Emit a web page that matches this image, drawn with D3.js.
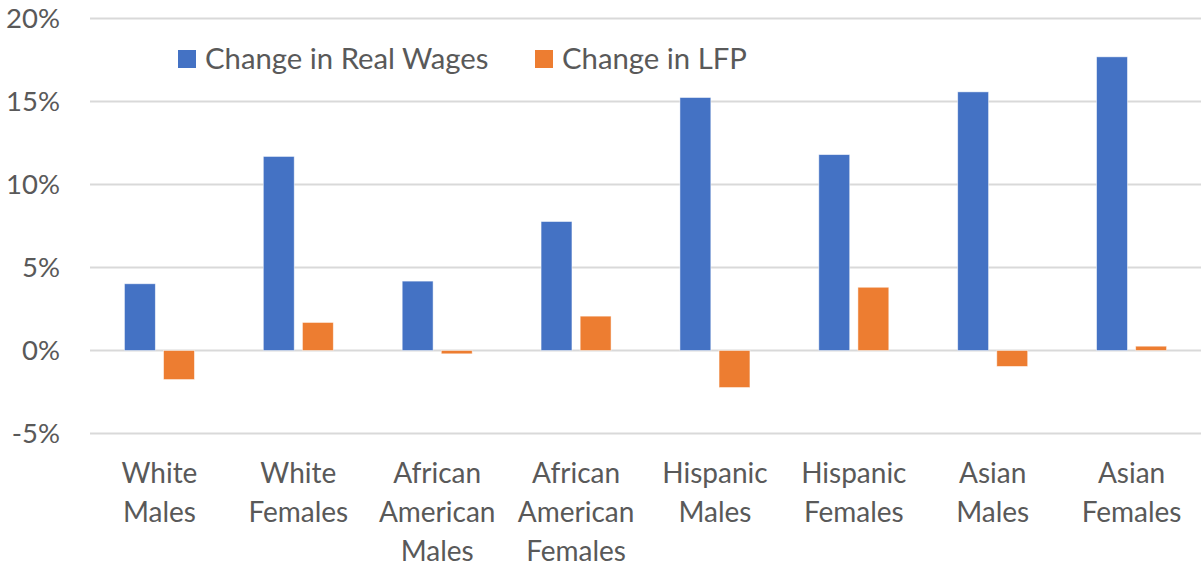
<!DOCTYPE html>
<html><head><meta charset="utf-8">
<script src="https://cdn.jsdelivr.net/npm/d3@7"></script>
<style>body{margin:0;background:#fff}text{font-family:Lato,"Liberation Sans",sans-serif;fill:#595959}</style>
</head><body>
<svg id="c" width="1202" height="569"></svg>
<script>
const categories = [["White","Males"],["White","Females"],["African","American","Males"],["African","American","Females"],["Hispanic","Males"],["Hispanic","Females"],["Asian","Males"],["Asian","Females"]];
const seriesNames = ["Change in Real Wages","Change in LFP"];
const realWages = [4.02, 11.69, 4.18, 7.77, 15.24, 11.8, 15.58, 17.69];
const lfp = [-1.75, 1.69, -0.2, 2.07, -2.23, 3.81, -0.96, 0.26];
const yTicks = [-5, 0, 5, 10, 15, 20];
const colors = ["#4472C4","#ED7D31"];

const svg = d3.select("#c");
const left = 90, right = 1201;
const y = d3.scaleLinear().domain([-5,20]).range([433.5,18.5]);
const x0 = d3.scaleBand().domain(d3.range(categories.length)).range([left,right]).paddingInner(0).paddingOuter(0);
const bw = x0.bandwidth();
const x1 = d3.scaleBand().domain([0,1]).range([bw*0.248, bw*0.752]).paddingInner(0.21);

svg.append("g").selectAll("line").data(yTicks).join("line")
  .attr("x1",left).attr("x2",right).attr("y1",d=>y(d)).attr("y2",d=>y(d))
  .attr("stroke","#d9d9d9").attr("stroke-width",2);

const ya = svg.append("g").attr("transform",`translate(${left},0)`)
  .call(d3.axisLeft(y).tickValues(yTicks).tickFormat(d=>d+"%").tickSize(0).tickPadding(30));
ya.select(".domain").remove();
ya.selectAll("text").style("font-size","27.5px").attr("fill","#595959").style("font-family","Lato,sans-serif");

const data = [realWages, lfp];
const g = svg.append("g");
data.forEach((arr,si)=>{
  g.selectAll(".s"+si).data(arr).join("rect")
   .attr("x",(d,i)=>x0(i)+x1(si))
   .attr("width",x1.bandwidth())
   .attr("y",d=>y(Math.max(0,d)))
   .attr("height",d=>Math.abs(y(d)-y(0)))
   .attr("fill",colors[si]).attr("stroke","#fff").attr("stroke-width",0.8).attr("stroke-opacity",0.6);
});

const cl = svg.append("g");
categories.forEach((lines,i)=>{
  const t = cl.append("text").attr("text-anchor","middle").style("font-size","28px")
    .attr("x",x0(i)+bw/2);
  lines.forEach((ln,j)=>t.append("tspan").attr("x",x0(i)+bw/2).attr("y",483+j*39).text(ln));
});

const lg = svg.append("g");
const legX = [178, 535];
seriesNames.forEach((n,i)=>{
  lg.append("rect").attr("x",legX[i]).attr("y",50).attr("width",18).attr("height",18).attr("fill",colors[i]);
  lg.append("text").attr("x",legX[i]+27).attr("y",69).style("font-size","29.3px").text(n);
});
</script>
</body></html>
